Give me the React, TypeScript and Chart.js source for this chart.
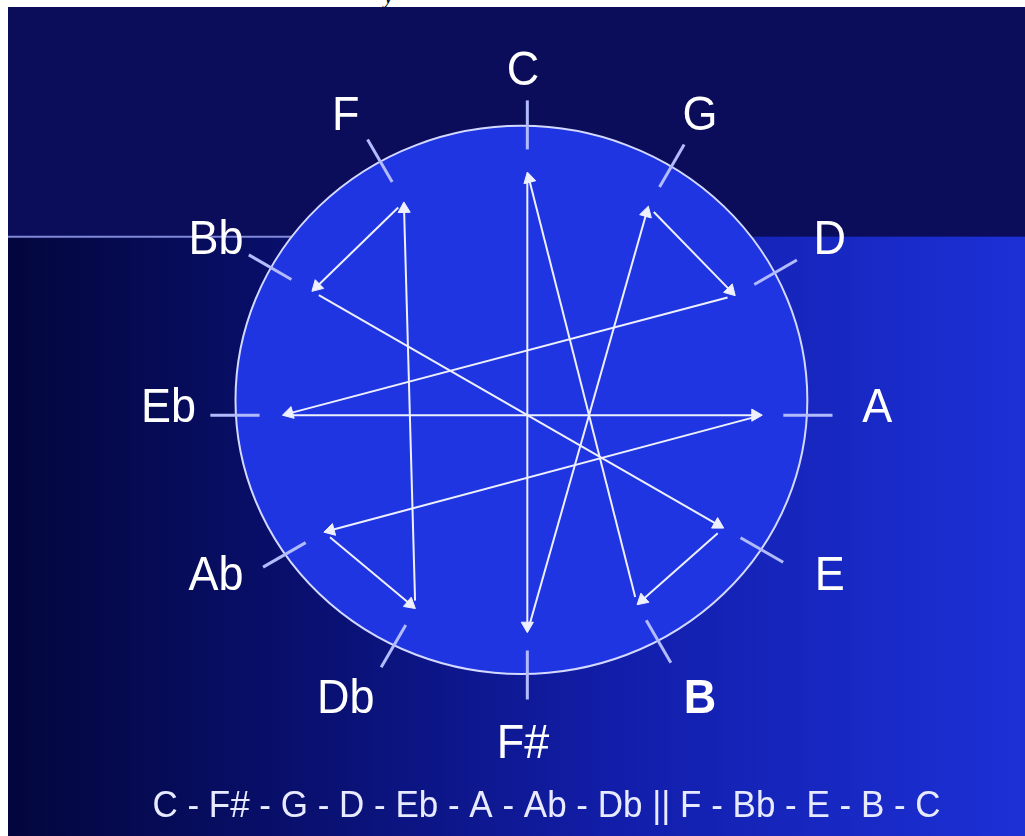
import React, { useEffect, useRef } from 'react';
import { Chart, registerables } from 'chart.js';

Chart.register(...registerables);

// ---- data ----
// Circle of fifths, clockwise from the top
const notes = ['C', 'G', 'D', 'A', 'E', 'B', 'F#', 'Db', 'Ab', 'Eb', 'Bb', 'F'];
const boldNotes = ['B'];
// Order in which the arrows run around the diagram
const sequence = ['C', 'F#', 'G', 'D', 'Eb', 'A', 'Ab', 'Db', 'F', 'Bb', 'E', 'B', 'C'];
const captionText = 'C - F# - G - D - Eb - A - Ab - Db || F - Bb - E - B - C';

// ---- layout (page pixel units; scales map them 1:1) ----
const PAGE_W = 1025;
const PAGE_H = 836;
const LEFT = 8;
const TOP = 7;
const CIRCLE = { cx: 521.5, cy: 399.5, rx: 290.5, ry: 279.5 };
const HUB = { x: 527.5, y: 415 };
const LABEL_RING = { cx: 523, cy: 408, rx: 360, ry: 343 };
const TICK_OUT = 26;
const TICK_IN = 24;
const ANCHOR_FRAC = 0.84;
const START_GAP = 8;
const HEAD = 7;
const BAND_BOTTOM = 233;
const CAPTION_POS = { x: 547, y: 825 };

const COLORS = {
  band: '#0b0d5a',
  circle: '#1f35e2',
  rim: '#d4d9ff',
  tick: '#b3bbff',
  arrow: '#eef0ff',
  label: '#ffffff',
  caption: '#e8ebff',
  rule: '#8088d8',
};

function direction(note: string) {
  const i = notes.indexOf(note);
  const a = (i * Math.PI) / 6;
  return { ux: Math.sin(a), uy: -Math.cos(a) };
}

function rimDistance(ux: number, uy: number) {
  const ox = HUB.x - CIRCLE.cx;
  const oy = HUB.y - CIRCLE.cy;
  const a = (ux / CIRCLE.rx) ** 2 + (uy / CIRCLE.ry) ** 2;
  const b = 2 * ((ox * ux) / CIRCLE.rx ** 2 + (oy * uy) / CIRCLE.ry ** 2);
  const c = (ox / CIRCLE.rx) ** 2 + (oy / CIRCLE.ry) ** 2 - 1;
  return (-b + Math.sqrt(b * b - 4 * a * c)) / (2 * a);
}

function spoke(note: string, dist: number) {
  const { ux, uy } = direction(note);
  return { x: HUB.x + ux * dist, y: HUB.y + uy * dist };
}

function anchor(note: string) {
  const { ux, uy } = direction(note);
  return spoke(note, rimDistance(ux, uy) * ANCHOR_FRAC);
}

function buildDatasets() {
  const sets: any[] = [];
  notes.forEach((n) => {
    const { ux, uy } = direction(n);
    const r = rimDistance(ux, uy);
    sets.push({
      label: 'tick ' + n,
      data: [spoke(n, r - TICK_IN), spoke(n, r + TICK_OUT)],
      showLine: true,
      borderColor: COLORS.tick,
      borderWidth: 3,
      pointRadius: 0,
      borderCapStyle: 'butt',
    });
  });
  for (let k = 0; k < sequence.length - 1; k++) {
    const from = anchor(sequence[k]);
    const to = anchor(sequence[k + 1]);
    const dx = to.x - from.x;
    const dy = to.y - from.y;
    const len = Math.hypot(dx, dy);
    const ux = dx / len;
    const uy = dy / len;
    const start = { x: from.x + ux * START_GAP, y: from.y + uy * START_GAP };
    const end = { x: to.x - ux * HEAD, y: to.y - uy * HEAD };
    const rot = (Math.atan2(ux, -uy) * 180) / Math.PI;
    sets.push({
      label: sequence[k] + ' -> ' + sequence[k + 1],
      data: [start, end],
      showLine: true,
      borderColor: COLORS.arrow,
      borderWidth: 2,
      pointStyle: 'triangle',
      pointRadius: [0, HEAD],
      pointRotation: [0, rot],
      pointBackgroundColor: COLORS.arrow,
      pointBorderColor: COLORS.arrow,
      pointBorderWidth: 1,
    });
  }
  return sets;
}

const backdropPlugin = {
  id: 'backdrop',
  beforeDatasetsDraw(chart: any) {
    const { ctx, width, height } = chart;
    const xs = chart.scales.x;
    const ys = chart.scales.y;
    const X = (v: number) => xs.getPixelForValue(v);
    const Y = (v: number) => ys.getPixelForValue(v);
    ctx.save();
    const g = ctx.createLinearGradient(0, 0, width, 0);
    g.addColorStop(0, '#03063c');
    g.addColorStop(0.3, '#091070');
    g.addColorStop(0.6, '#121eaa');
    g.addColorStop(1, '#1c30d6');
    ctx.fillStyle = g;
    ctx.fillRect(0, 0, width, height);
    ctx.fillStyle = COLORS.band;
    ctx.fillRect(0, 0, width, Y(BAND_BOTTOM));
    ctx.strokeStyle = COLORS.rule;
    ctx.lineWidth = 2;
    ctx.beginPath();
    ctx.moveTo(0, Y(BAND_BOTTOM));
    ctx.lineTo(X(CIRCLE.cx), Y(BAND_BOTTOM));
    ctx.stroke();
    const pcx = X(CIRCLE.cx);
    const pcy = Y(CIRCLE.cy);
    const prx = Math.abs(X(CIRCLE.cx + CIRCLE.rx) - pcx);
    const pry = Math.abs(Y(CIRCLE.cy + CIRCLE.ry) - pcy);
    ctx.beginPath();
    ctx.ellipse(pcx, pcy, prx, pry, 0, 0, Math.PI * 2);
    ctx.fillStyle = COLORS.circle;
    ctx.fill();
    ctx.strokeStyle = COLORS.rim;
    ctx.lineWidth = 2;
    ctx.stroke();
    ctx.restore();
  },
};

const labelPlugin = {
  id: 'noteLabels',
  afterDatasetsDraw(chart: any) {
    const { ctx } = chart;
    const xs = chart.scales.x;
    const ys = chart.scales.y;
    ctx.save();
    ctx.fillStyle = COLORS.label;
    ctx.textAlign = 'center';
    ctx.textBaseline = 'middle';
    notes.forEach((n, i) => {
      const a = (i * Math.PI) / 6;
      const px = xs.getPixelForValue(LABEL_RING.cx + Math.sin(a) * LABEL_RING.rx);
      const py = ys.getPixelForValue(LABEL_RING.cy - Math.cos(a) * LABEL_RING.ry);
      ctx.font = (boldNotes.includes(n) ? 'bold ' : '') + '45px "Liberation Sans", Arial, sans-serif';
      ctx.save();
      ctx.translate(px, py);
      ctx.scale(1, 1.085);
      ctx.fillText(n, 0, 0);
      ctx.restore();
    });
    ctx.fillStyle = COLORS.caption;
    ctx.textBaseline = 'alphabetic';
    ctx.font = '35px "Liberation Sans", Arial, sans-serif';
    ctx.save();
    ctx.translate(xs.getPixelForValue(CAPTION_POS.x), ys.getPixelForValue(CAPTION_POS.y));
    ctx.scale(1, 1.08);
    ctx.fillText(captionText, 0, 0);
    ctx.restore();
    ctx.restore();
  },
};

export default function App() {
  const ref = useRef<HTMLCanvasElement>(null);
  useEffect(() => {
    const chart = new Chart(ref.current as HTMLCanvasElement, {
      type: 'scatter',
      data: { datasets: buildDatasets() },
      options: {
        animation: false,
        responsive: false,
        maintainAspectRatio: false,
        events: [],
        layout: { padding: 0 },
        elements: { line: { tension: 0 } },
        plugins: {
          legend: { display: false },
          tooltip: { enabled: false },
          title: { display: false },
        },
        scales: {
          x: { type: 'linear', min: LEFT, max: PAGE_W, display: false },
          y: { type: 'linear', min: TOP, max: PAGE_H, reverse: true, display: false },
        },
      },
      plugins: [backdropPlugin, labelPlugin],
    } as any);
    return () => chart.destroy();
  }, []);
  return (
    <div style={{ position: 'fixed', left: 0, top: 0, width: PAGE_W, height: PAGE_H, background: '#fff', overflow: 'hidden' }}>
      <span style={{ position: 'absolute', left: 384, top: -16, font: 'italic 21px "Liberation Serif", serif', color: '#000' }}>y</span>
      <canvas
        ref={ref}
        width={PAGE_W - LEFT}
        height={PAGE_H - TOP}
        style={{ position: 'absolute', left: LEFT, top: TOP, display: 'block' }}
      />
    </div>
  );
}
